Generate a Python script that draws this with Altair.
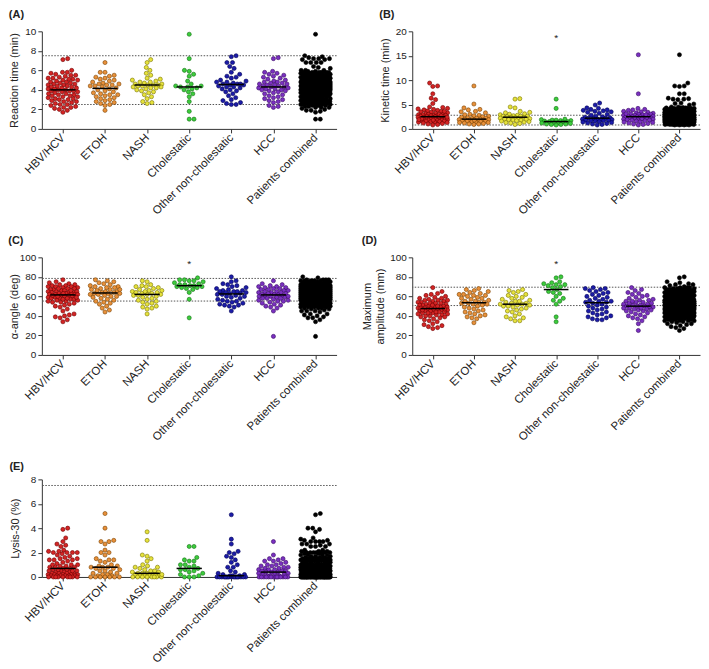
import json
import altair as alt
import numpy as np
import pandas as pd

categories = ["HBV/HCV", "ETOH", "NASH", "Cholestatic", "Other non-cholestatic", "HCC", "Patients combined"]
fill_colors = ["#d42424", "#e8903a", "#e6e23c", "#3ccc3c", "#1c1ca8", "#7a30c0", "#000000"]
stroke_colors = ["#6e0000", "#7a4200", "#7a7400", "#157015", "#000055", "#3a0a66", "#000000"]

# ---------------- (A) Reaction time (min) ----------------
A_hbv = [7.2, 7.1, 6.0, 5.8, 5.8, 5.7, 5.6, 5.5, 5.5, 5.4, 5.3, 5.2, 5.2, 5.1, 5.0, 5.0, 4.9, 4.8, 4.8, 4.7,
         4.6, 4.6, 4.5, 4.5, 4.4, 4.3, 4.3, 4.2, 4.2, 4.1, 4.1, 4.0, 4.0, 3.9, 3.9, 3.8, 3.8, 3.7, 3.6, 3.6,
         3.5, 3.5, 3.4, 3.3, 3.3, 3.2, 3.1, 3.1, 3.0, 3.0, 2.9, 2.8, 2.8, 2.7, 2.6, 2.5, 2.5, 2.4, 2.3, 2.2,
         2.2, 2.1, 2.0, 1.9, 1.7, 4.4, 3.9, 4.7, 5.1, 3.4]
A_etoh = [6.8, 5.8, 5.8, 5.5, 5.4, 5.3, 5.2, 5.1, 5.0, 4.9, 4.8, 4.7, 4.6, 4.5, 4.5, 4.4, 4.4, 4.3, 4.2, 4.1,
          4.0, 3.9, 3.8, 3.7, 3.6, 3.5, 3.5, 3.4, 3.3, 3.2, 3.1, 3.0, 2.9, 2.8, 2.7, 2.5, 2.4, 2.6, 1.9, 4.6]
A_nash = [7.1, 6.8, 6.3, 6.0, 5.7, 5.5, 5.2, 5.1, 5.0, 4.9, 4.8, 4.8, 4.7, 4.6, 4.6, 4.5, 4.5, 4.4, 4.4, 4.3,
          4.3, 4.2, 4.1, 4.0, 3.9, 3.8, 3.7, 3.5, 3.3, 3.1, 2.8, 2.7, 2.6, 4.5, 4.2]
A_chol = [9.7, 7.2, 6.0, 5.9, 5.6, 5.4, 4.9, 4.6, 4.4, 4.4, 4.3, 4.3, 4.2, 4.1, 4.0, 3.8, 3.6, 3.3, 2.8, 1.8,
          1.0, 1.0]
A_other = [7.5, 7.4, 6.8, 6.8, 6.4, 6.2, 5.8, 5.6, 5.4, 5.3, 5.2, 5.0, 4.9, 4.8, 4.8, 4.7, 4.6, 4.6, 4.5, 4.5,
           4.4, 4.3, 4.2, 4.1, 4.0, 3.9, 3.8, 3.6, 3.4, 3.2, 3.0, 2.9, 2.7, 2.6, 2.5, 2.5, 4.6, 4.3]
A_hcc = [7.3, 7.2, 5.9, 5.8, 5.7, 5.6, 5.5, 5.4, 5.3, 5.2, 5.1, 5.0, 4.9, 4.8, 4.8, 4.7, 4.7, 4.6, 4.5, 4.5,
         4.4, 4.4, 4.3, 4.3, 4.2, 4.2, 4.1, 4.0, 4.0, 3.9, 3.8, 3.7, 3.6, 3.5, 3.4, 3.3, 3.2, 3.1, 3.0, 2.9,
         2.8, 2.7, 2.4, 2.3, 2.2, 4.6, 4.1, 3.9]
A_refs = [2.5, 7.5]
A_stars = []

# ---------------- (B) Kinetic time (min) ----------------
B_hbv = [9.4, 8.8, 8.7, 7.2, 6.3, 6.0, 5.2, 4.5, 4.4, 4.2, 4.0, 3.9, 3.8, 3.7, 3.6, 3.5, 3.4, 3.3, 3.2, 3.1,
         3.0, 3.0, 2.9, 2.9, 2.8, 2.8, 2.7, 2.7, 2.6, 2.6, 2.5, 2.5, 2.4, 2.4, 2.3, 2.3, 2.2, 2.2, 2.1, 2.1,
         2.0, 2.0, 2.0, 1.9, 1.9, 1.8, 1.8, 1.7, 1.7, 1.6, 1.6, 1.5, 1.5, 1.4, 1.4, 1.3, 1.2, 1.1, 1.0, 0.9,
         0.8, 3.6, 2.5, 2.1, 1.8, 3.0, 2.4, 2.7, 1.9, 4.1]
B_etoh = [8.8, 5.1, 4.3, 4.0, 3.6, 3.5, 3.3, 3.0, 2.8, 2.7, 2.6, 2.5, 2.4, 2.3, 2.2, 2.1, 2.0, 2.0, 1.9, 1.9,
          1.8, 1.8, 1.7, 1.7, 1.6, 1.6, 1.5, 1.5, 1.4, 1.3, 1.3, 1.2, 1.1, 1.0, 1.0, 0.9, 2.2, 1.8, 3.9, 2.9]
B_nash = [6.2, 6.1, 4.5, 4.3, 3.6, 3.4, 3.3, 3.1, 3.0, 2.9, 2.8, 2.7, 2.6, 2.6, 2.5, 2.4, 2.4, 2.3, 2.2, 2.2,
          2.1, 2.0, 1.9, 1.8, 1.8, 1.7, 1.6, 1.5, 1.4, 1.3, 1.2, 1.1, 0.9, 2.6, 2.0]
B_chol = [6.1, 4.2, 2.0, 1.9, 1.8, 1.8, 1.7, 1.7, 1.6, 1.5, 1.5, 1.4, 1.3, 1.3, 1.2, 1.1, 1.0, 1.0, 0.9, 0.9,
          0.8]
B_other = [5.3, 4.9, 4.3, 4.2, 4.0, 3.9, 3.8, 3.7, 3.6, 3.5, 3.4, 3.2, 3.0, 2.8, 2.6, 2.5, 2.4, 2.3, 2.2, 2.1,
           2.0, 2.0, 1.9, 1.9, 1.8, 1.8, 1.7, 1.6, 1.5, 1.4, 1.3, 1.2, 1.1, 1.0, 0.9, 0.8, 2.2, 1.7]
B_hcc = [15.2, 7.2, 4.2, 4.0, 3.9, 3.8, 3.6, 3.5, 3.4, 3.3, 3.2, 3.1, 3.0, 3.0, 2.9, 2.8, 2.8, 2.7, 2.6, 2.6,
         2.5, 2.5, 2.4, 2.4, 2.3, 2.3, 2.2, 2.2, 2.1, 2.0, 2.0, 1.9, 1.8, 1.8, 1.7, 1.6, 1.5, 1.4, 1.3, 1.2,
         1.1, 1.0, 0.9, 0.8, 2.5, 2.9, 3.1, 2.1]
B_refs = [0.8, 2.8]
B_stars = [19.0]

# ---------------- (C) alpha-angle (deg) ----------------
C_hbv = [77, 75, 74, 73, 72, 72, 71, 71, 70, 70, 69, 69, 68, 68, 67, 67, 66, 66, 65, 65,
         64, 64, 64, 63, 63, 63, 62, 62, 62, 61, 61, 60, 60, 59, 59, 58, 58, 57, 57, 56,
         56, 55, 55, 54, 54, 53, 52, 51, 50, 49, 47, 45, 42, 41, 40, 39, 38, 36, 34, 65,
         62, 60, 58, 66, 70, 68, 57, 63, 61, 59]
C_etoh = [77, 76, 75, 74, 73, 72, 71, 70, 70, 69, 68, 67, 67, 66, 65, 65, 64, 64, 63, 63,
          62, 62, 61, 60, 60, 59, 58, 57, 56, 55, 54, 53, 52, 50, 48, 46, 44, 67, 63, 69]
C_nash = [76, 75, 72, 71, 70, 70, 69, 68, 67, 66, 66, 65, 64, 64, 63, 63, 62, 62, 61, 60,
          59, 58, 57, 56, 55, 54, 53, 52, 50, 49, 48, 47, 42, 65, 61]
C_chol = [79, 77, 77, 76, 76, 75, 74, 73, 72, 72, 71, 71, 70, 70, 69, 69, 68, 67, 64, 57, 38]
C_other = [80, 76, 75, 73, 72, 71, 70, 69, 68, 67, 66, 66, 65, 65, 64, 64, 63, 63, 62, 62,
           61, 60, 59, 58, 57, 56, 55, 55, 54, 53, 52, 51, 51, 50, 49, 45, 65, 60]
C_hcc = [76, 73, 72, 71, 70, 70, 69, 69, 68, 68, 67, 66, 66, 65, 65, 64, 64, 63, 63, 62,
         62, 61, 61, 60, 60, 59, 59, 58, 58, 57, 56, 56, 55, 55, 54, 53, 52, 51, 50, 49,
         48, 45, 19, 64, 62, 60, 67, 58]
C_refs = [55.2, 78.4]
C_stars = [95.0]

# ---------------- (D) Maximum amplitude (mm) ----------------
D_hbv = [69, 65, 63, 62, 61, 60, 59, 58, 58, 57, 56, 56, 55, 55, 54, 54, 53, 53, 52, 52,
         51, 51, 50, 50, 49, 49, 49, 48, 48, 48, 47, 47, 46, 46, 46, 45, 45, 44, 44, 43,
         43, 42, 42, 41, 41, 40, 40, 39, 38, 37, 36, 35, 34, 32, 31, 30, 29, 28, 27, 50,
         47, 44, 53, 56, 45, 48, 51, 43, 39, 46]
D_etoh = [68, 67, 66, 65, 64, 63, 62, 62, 61, 60, 59, 58, 57, 56, 55, 55, 54, 54, 53, 53,
          52, 51, 50, 49, 48, 47, 46, 45, 44, 43, 42, 41, 40, 39, 38, 37, 33, 58, 52, 61]
D_nash = [67, 66, 65, 64, 62, 61, 60, 59, 58, 57, 56, 55, 54, 53, 53, 52, 52, 51, 51, 50,
          49, 48, 47, 46, 45, 44, 42, 40, 39, 38, 37, 35, 35, 55, 50]
D_chol = [80, 79, 75, 74, 73, 72, 72, 71, 70, 69, 67, 65, 64, 63, 60, 58, 56, 55, 52, 39, 34]
D_other = [69, 68, 68, 67, 66, 65, 64, 63, 62, 61, 60, 59, 58, 57, 56, 55, 54, 54, 53, 52,
           51, 50, 49, 48, 47, 46, 45, 44, 43, 42, 41, 40, 39, 38, 37, 36, 36, 55]
D_hcc = [69, 67, 66, 64, 63, 62, 61, 60, 59, 58, 57, 56, 56, 55, 54, 54, 53, 52, 52, 51,
         51, 50, 50, 49, 49, 48, 48, 47, 47, 46, 46, 45, 44, 43, 42, 41, 40, 39, 38, 37,
         35, 32, 25, 50, 53, 48, 45, 55]
D_refs = [50.6, 69.4]
D_stars = [95.0]

# ---------------- (E) Lysis-30 (%) ----------------
E_hbv = [4.0, 3.9, 3.2, 2.9, 2.7, 2.6, 2.5, 2.2, 2.1, 2.0, 2.0, 2.0, 2.0, 1.9, 1.8, 1.6, 1.5, 1.4, 1.4, 1.4,
         1.3, 1.2, 1.1, 1.0, 1.0, 0.9, 0.9, 0.8, 0.8, 0.7, 0.7, 0.6, 0.6, 0.5, 0.5, 0.5, 0.4, 0.4, 0.4, 0.3,
         0.3, 0.3, 0.3, 0.2, 0.2, 0.2, 0.2, 0.2, 0.1, 0.1, 0.1, 0.1, 0.1, 0.1, 0.0, 0.0, 0.0, 0.0, 0.0, 0.0,
         0.0, 0.0, 1.5, 1.0, 0.6, 2.1, 0.8, 1.7, 0.5, 0.0]
E_etoh = [5.2, 4.0, 3.0, 2.9, 2.9, 2.7, 2.2, 2.0, 2.0, 1.8, 1.5, 1.4, 1.3, 1.2, 1.0, 0.9, 0.9, 0.8, 0.8, 0.8,
          0.7, 0.6, 0.5, 0.5, 0.4, 0.3, 0.3, 0.2, 0.2, 0.1, 0.1, 0.0, 0.0, 0.0, 0.0, 0.0, 0.0, 0.0, 1.4, 0.7]
E_nash = [3.7, 3.0, 1.8, 1.7, 1.5, 1.3, 1.0, 0.9, 0.8, 0.8, 0.7, 0.6, 0.5, 0.5, 0.4, 0.4, 0.3, 0.3, 0.3, 0.2,
          0.2, 0.2, 0.1, 0.1, 0.1, 0.1, 0.0, 0.0, 0.0, 0.0, 0.0, 0.0, 0.0, 0.0, 0.2]
E_chol = [2.5, 2.5, 1.6, 1.4, 1.3, 1.3, 1.0, 1.0, 0.9, 0.8, 0.7, 0.6, 0.6, 0.5, 0.4, 0.3, 0.2, 0.1, 0.0, 0.0,
          0.0]
E_other = [5.1, 3.1, 2.7, 2.1, 2.0, 1.9, 1.7, 1.6, 1.4, 1.2, 1.0, 0.8, 0.8, 0.5, 0.4, 0.3, 0.2, 0.2, 0.1, 0.1,
           0.1, 0.0, 0.0, 0.0, 0.0, 0.0, 0.0, 0.0, 0.0, 0.0, 0.0, 0.0, 0.0, 0.0, 0.0, 0.0, 0.0, 0.0]
E_hcc = [2.9, 1.8, 1.5, 1.5, 1.4, 1.3, 1.3, 1.2, 1.1, 1.0, 1.0, 0.9, 0.9, 0.8, 0.8, 0.7, 0.7, 0.6, 0.6, 0.6,
         0.5, 0.5, 0.5, 0.4, 0.4, 0.4, 0.3, 0.3, 0.2, 0.2, 0.2, 0.1, 0.1, 0.1, 0.0, 0.0, 0.0, 0.0, 0.0, 0.0,
         0.0, 0.0, 0.0, 0.0, 0.0, 0.0, 0.0, 0.0]
E_refs = [7.5]
E_stars = []

PLOT_H = 98
FONT = "Liberation Sans"
TXT = "#222222"


def swarm_offsets(vals, ymax, width, d=4.6, cap=15.0):
    """Beeswarm layout: horizontal offsets (in category units) for each value."""
    y = np.asarray(vals, dtype=float) / ymax * PLOT_H
    steps = np.arange(0.4, cap + 0.01, 0.4)
    cands = np.concatenate([[0.0], np.ravel(np.column_stack([steps, -steps]))])
    order = np.argsort(y, kind="stable")
    px_list, py_list = [], []
    out = np.zeros(len(y))
    for i in order:
        x = 0.0
        if px_list:
            px = np.array(px_list)
            py = np.array(py_list)
            m = np.abs(py - y[i]) < d
            if m.any():
                dx = cands[:, None] - px[m][None, :]
                dy = (y[i] - py[m])[None, :]
                dist = np.sqrt(dx ** 2 + dy ** 2).min(axis=1)
                ok = dist >= d
                x = cands[np.argmax(ok)] if ok.any() else cands[np.argmax(dist)]
        px_list.append(x)
        py_list.append(y[i])
        out[i] = x
    return out / (width / 7.0)


def panel(letter, groups, ymax, ticks, ytitle, refs, stars, width, title_offset, tpad):
    groups = list(groups) + [sum(groups, [])]
    rows = []
    for k, vals in enumerate(groups):
        offs = swarm_offsets(vals, ymax, width)
        for v, o in zip(vals, offs):
            rows.append({"idx": k, "cat": categories[k], "value": v, "xpos": k + o})
    df = pd.DataFrame(rows)
    xscale = alt.Scale(domain=[-0.5, 6.5], nice=False, zero=False)
    yscale = alt.Scale(domain=[0, ymax], nice=False)
    label_expr = json.dumps(categories) + "[datum.value]"
    xaxis = alt.Axis(values=list(range(7)), labelExpr=label_expr, labelAngle=315, labelAlign="right",
                     labelBaseline="middle", labelPadding=3, tickSize=4, title=None,
                     labelFontSize=11.5, labelOverlap=False)
    yaxis = alt.Axis(values=ticks, title=ytitle, tickSize=4, labelPadding=2, titlePadding=tpad)

    base = alt.Chart(df)
    ref = alt.Chart(pd.DataFrame({"ref": refs})).mark_rule(
        color="#555555", strokeDash=[1.5, 1.5], strokeWidth=1
    ).encode(y=alt.Y("ref:Q", scale=yscale, axis=yaxis))
    pts = base.mark_point(filled=True, shape="circle", size=17, strokeWidth=0.6, opacity=1).encode(
        x=alt.X("xpos:Q", scale=xscale, axis=xaxis),
        y=alt.Y("value:Q", scale=yscale, axis=yaxis),
        fill=alt.Fill("cat:N", scale=alt.Scale(domain=categories, range=fill_colors), legend=None),
        stroke=alt.Stroke("cat:N", scale=alt.Scale(domain=categories, range=stroke_colors), legend=None),
    )
    med = base.transform_aggregate(med="median(value)", groupby=["idx"]).transform_calculate(
        x1="datum.idx - 0.3", x2="datum.idx + 0.3"
    ).mark_rule(color="black", strokeWidth=1.5).encode(
        x=alt.X("x1:Q", scale=xscale, axis=xaxis), x2="x2:Q", y=alt.Y("med:Q", scale=yscale, axis=yaxis)
    )
    layers = [ref, pts, med]
    if stars:
        st = alt.Chart(pd.DataFrame({"sx": [3] * len(stars), "sy": stars})).mark_text(
            text="*", fontSize=10, font=FONT, color=TXT, baseline="middle", dy=2
        ).encode(x=alt.X("sx:Q", scale=xscale, axis=xaxis), y=alt.Y("sy:Q", scale=yscale, axis=yaxis))
        layers.append(st)
    return alt.layer(*layers).properties(
        width=width, height=PLOT_H,
        title=alt.TitleParams(letter, anchor="start", fontSize=11, fontWeight="bold", font=FONT,
                              color=TXT, offset=title_offset, frame="bounds"),
    )


pA = panel("(A)", [A_hbv, A_etoh, A_nash, A_chol, A_other, A_hcc], 10, [0, 2, 4, 6, 8, 10],
           "Reaction time (min)", A_refs, A_stars, 296, 6, 5)
pB = panel("(B)", [B_hbv, B_etoh, B_nash, B_chol, B_other, B_hcc], 20, [0, 5, 10, 15, 20],
           "Kinetic time (min)", B_refs, B_stars, 289, 6, 5)
pC = panel("(C)", [C_hbv, C_etoh, C_nash, C_chol, C_other, C_hcc], 100, [0, 20, 40, 60, 80, 100],
           "α-angle (deg)", C_refs, C_stars, 296, 6, 0)
pD = panel("(D)", [D_hbv, D_etoh, D_nash, D_chol, D_other, D_hcc], 100, [0, 20, 40, 60, 80, 100],
           ["Maximum", "amplitude (mm)"], D_refs, D_stars, 289, 6, 4)
pE = panel("(E)", [E_hbv, E_etoh, E_nash, E_chol, E_other, E_hcc], 8, [0, 2, 4, 6, 8],
           "Lysis-30 (%)", E_refs, E_stars, 296, 2, 10)

chart = alt.vconcat(
    alt.hconcat(pA, pB, spacing=41),
    alt.hconcat(pC, pD, spacing=24),
    pE,
    spacing=18,
).properties(padding={"left": 0, "top": 0, "right": 0, "bottom": 0}).configure_view(
    stroke=None
).configure_axis(
    grid=False, domainColor="#333333", tickColor="#333333", labelColor=TXT, titleColor=TXT,
    labelFont=FONT, titleFont=FONT, labelFontSize=10, titleFontSize=11, titleFontWeight="normal",
    domainWidth=1, tickWidth=1
)

chart.save("out.html", embed_options={"renderer": "svg", "actions": False})
